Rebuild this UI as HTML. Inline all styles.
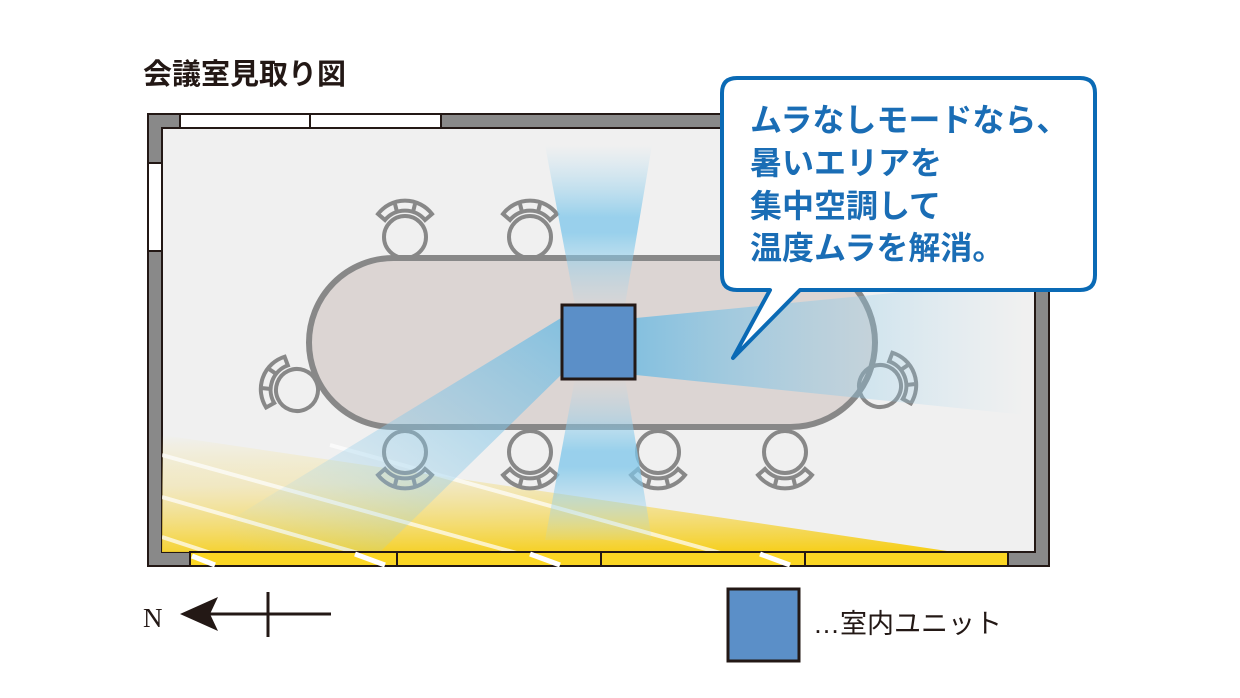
<!DOCTYPE html>
<html><head><meta charset="utf-8"><style>
html,body{margin:0;padding:0;background:#fff;width:1240px;height:698px;overflow:hidden}
svg{display:block}
text{font-family:"Liberation Sans","Noto Sans CJK JP",sans-serif}
</style></head><body>
<svg width="1240" height="698" viewBox="0 0 1240 698" xmlns="http://www.w3.org/2000/svg">
<defs>
<linearGradient id="sun" x1="0" y1="0" x2="0.1" y2="1">
<stop offset="0" stop-color="#f7e27a" stop-opacity="0"/>
<stop offset="0.4" stop-color="#f2e2a0" stop-opacity="0.55"/>
<stop offset="1" stop-color="#f6cf1a" stop-opacity="1"/>
</linearGradient>
<linearGradient id="bv" x1="0" y1="0" x2="0" y2="1">
<stop offset="0" stop-color="#a6d8f0" stop-opacity="0"/>
<stop offset="0.45" stop-color="#7cc6ea" stop-opacity="0.75"/>
<stop offset="0.55" stop-color="#7cc6ea" stop-opacity="0.75"/>
<stop offset="1" stop-color="#a6d8f0" stop-opacity="0.1"/>
</linearGradient>
<linearGradient id="br" x1="0" y1="0" x2="1" y2="0">
<stop offset="0" stop-color="#6fbbe2" stop-opacity="0.8"/>
<stop offset="1" stop-color="#a6d8f0" stop-opacity="0"/>
</linearGradient>
<linearGradient id="bl" x1="1" y1="0" x2="0" y2="1">
<stop offset="0" stop-color="#6fbbe2" stop-opacity="0.8"/>
<stop offset="1" stop-color="#a6d8f0" stop-opacity="0"/>
</linearGradient>
<g id="chair" fill="none" stroke="#888" stroke-width="4">
<circle cx="0" cy="0" r="21"/>
<path d="M-27,-23 A34,34 0 0 1 27,-23 L20,-17 A26,26 0 0 0 -20,-17 Z" stroke-linejoin="miter"/>
<line x1="-8" y1="-25" x2="-10" y2="-33"/>
<line x1="8" y1="-25" x2="10" y2="-33"/>
</g>
<clipPath id="room"><rect x="162" y="128" width="873" height="424"/></clipPath>
</defs>

<text x="143" y="84" font-size="29" font-weight="bold" fill="#231815">会議室見取り図</text>

<rect x="148" y="114" width="901" height="452" fill="#898989" stroke="#231815" stroke-width="2"/>
<rect x="162" y="128" width="873" height="424" fill="#f0f0f0" stroke="#231815" stroke-width="2"/>
<rect x="180" y="114" width="261" height="14" fill="#fff" stroke="#231815" stroke-width="2"/>
<line x1="310" y1="114" x2="310" y2="128" stroke="#231815" stroke-width="2"/>
<rect x="148" y="163" width="14" height="88" fill="#fff" stroke="#231815" stroke-width="2"/>

<g clip-path="url(#room)">
<polygon points="162,435 1008,560 1008,552 162,552" fill="url(#sun)"/>
<g stroke="#fff" stroke-width="4" opacity="0.7">
<line x1="162" y1="455" x2="560" y2="565"/>
<line x1="162" y1="497" x2="400" y2="565"/>
<line x1="162" y1="537" x2="220" y2="556"/>
<line x1="330" y1="445" x2="800" y2="575"/>
</g>
<rect x="309" y="258" width="566" height="169" rx="84.5" fill="#dcd5d3" stroke="#888" stroke-width="6"/>
<use href="#chair" transform="translate(405,237)"/>
<use href="#chair" transform="translate(530,237)"/>
<use href="#chair" transform="translate(405,452) rotate(180)"/>
<use href="#chair" transform="translate(530,452) rotate(180)"/>
<use href="#chair" transform="translate(658,452) rotate(180)"/>
<use href="#chair" transform="translate(785,452) rotate(180)"/>
<use href="#chair" transform="translate(297,390) rotate(-70)"/>
<use href="#chair" transform="translate(880,386) rotate(70)"/>
<polygon points="545,145 652,145 625,305 575,305" fill="url(#bv)"/>
<polygon points="575,378 625,378 652,540 545,540" fill="url(#bv)"/>
<polygon points="636,318 1025,280 1025,415 636,375" fill="url(#br)"/>
<polygon points="561,318 561,375 380,552 230,552 230,520" fill="url(#bl)"/>
</g>

<rect x="562" y="305" width="73" height="74" fill="#5b8fc8" stroke="#231815" stroke-width="3"/>

<rect x="190" y="552" width="818" height="14" fill="#fbd623" stroke="#231815" stroke-width="2"/>
<g stroke="#fff" stroke-width="5">
<line x1="192" y1="556" x2="215" y2="565"/>
<line x1="355" y1="554" x2="385" y2="565"/>
<line x1="530" y1="554" x2="560" y2="565"/>
<line x1="760" y1="554" x2="790" y2="565"/>
</g>
<g stroke="#231815" stroke-width="2">
<line x1="397" y1="552" x2="397" y2="566"/>
<line x1="601" y1="552" x2="601" y2="566"/>
<line x1="805" y1="552" x2="805" y2="566"/>
</g>

<path d="M737,78 H1080 Q1095,78 1095,93 V275 Q1095,290 1080,290 H800 L733,358 L770,290 H737 Q722,290 722,275 V93 Q722,78 737,78 Z" fill="#fff" stroke="#0a6ab5" stroke-width="4" stroke-linejoin="round"/>
<g fill="#1a6db5" font-size="32" font-weight="bold">
<text x="750" y="131">ムラなしモードなら、</text>
<text x="750" y="174">暑いエリアを</text>
<text x="750" y="217">集中空調して</text>
<text x="750" y="259">温度ムラを解消。</text>
</g>

<text x="143" y="627" font-size="27" fill="#231815" style="font-family:'Liberation Serif',serif">N</text>
<line x1="205" y1="614" x2="331" y2="614" stroke="#231815" stroke-width="3"/>
<polygon points="180,614 218,597 210,614 218,631" fill="#231815"/>
<line x1="268" y1="592" x2="268" y2="637" stroke="#231815" stroke-width="3"/>
<rect x="728" y="589" width="71" height="72" fill="#5b8fc8" stroke="#231815" stroke-width="3"/>
<text x="813" y="633" font-size="27" fill="#231815">…室内ユニット</text>
</svg>
</body></html>
